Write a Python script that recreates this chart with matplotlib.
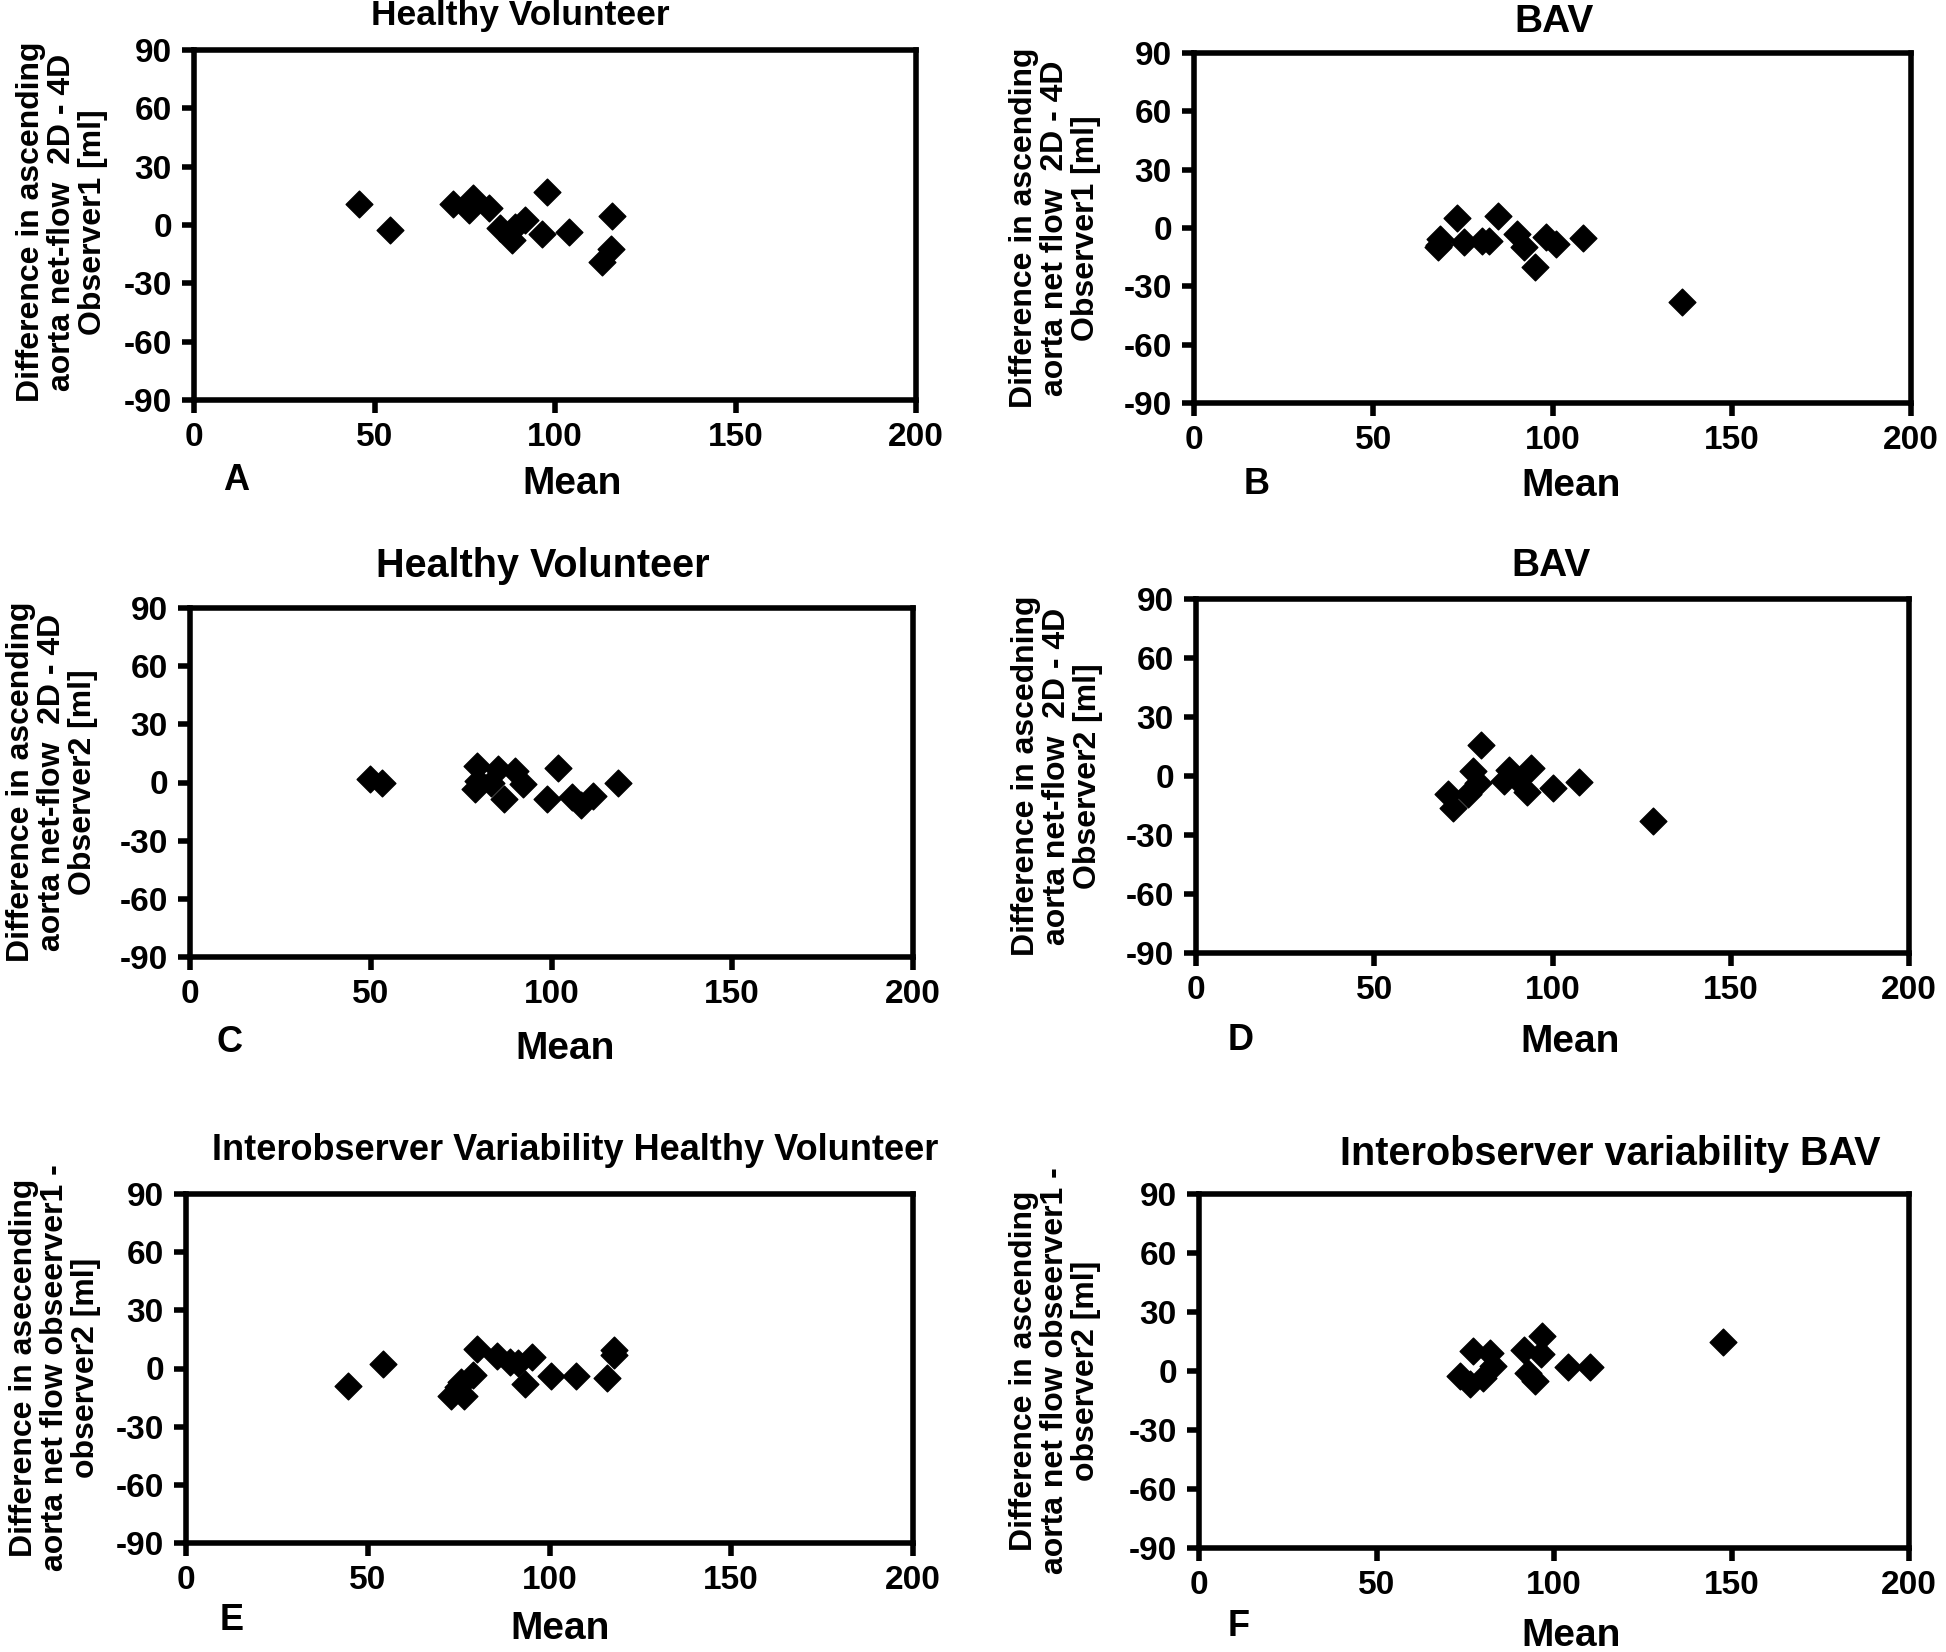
import matplotlib

matplotlib.use("Agg")
import matplotlib.pyplot as plt

plt.rcParams["font.family"] = ["Liberation Sans", "DejaVu Sans"]
plt.rcParams["font.weight"] = "bold"
plt.rcParams["axes.unicode_minus"] = False

W, H = 1946, 1652

# --- data (Bland-Altman style: mean vs difference) ---
a_mean = [45.6, 54.2, 71.8, 77.3, 76.2, 81.8, 84.9, 88.2, 91.7, 88.9, 97.7, 96.3, 104.0, 115.9, 115.6, 113.0]
a_diff = [10.6, -2.6, 10.6, 13.7, 7.7, 8.6, -1.4, -7.7, 2.6, -0.9, 16.8, -4.8, -3.4, 4.8, -12.3, -19.2]

b_mean = [68.3, 68.7, 68.0, 73.4, 75.2, 80.2, 82.3, 84.9, 90.2, 92.0, 95.0, 98.3, 101.0, 108.4, 136.0]
b_diff = [-8.9, -5.8, -9.8, 5.1, -7.2, -6.9, -6.9, 6.2, -2.9, -9.8, -20.1, -4.6, -8.1, -5.1, -38.1]

c_mean = [49.8, 53.1, 79.4, 78.7, 79.6, 85.2, 83.3, 89.8, 92.1, 86.9, 101.7, 98.8, 105.6, 108.1, 111.6, 118.3]
c_diff = [1.7, -0.5, 8.6, -3.4, 0.9, 6.9, 0.0, 6.0, -0.9, -8.6, 7.4, -8.6, -7.7, -11.7, -6.9, -0.5]

d_mean = [80.0, 77.7, 79.1, 76.3, 70.6, 72.2, 87.9, 86.5, 93.9, 90.2, 92.9, 100.0, 107.4, 128.3]
d_diff = [16.0, 2.4, -3.5, -9.4, -8.9, -16.2, 3.3, -2.6, 4.1, -1.8, -8.2, -6.0, -3.2, -23.0]

e_mean = [44.6, 54.1, 80.1, 85.6, 89.1, 91.4, 95.2, 93.2, 78.9, 75.7, 73.0, 76.6, 74.8, 100.3, 107.3, 115.7, 117.8, 117.8]
e_diff = [-9.1, 2.2, 9.9, 6.5, 3.4, 2.6, 6.0, -8.2, -3.4, -6.9, -14.2, -14.2, -9.4, -3.9, -3.9, -4.8, 9.4, 6.9]

f_mean = [147.6, 77.2, 81.9, 73.5, 76.3, 80.0, 82.8, 96.6, 91.6, 96.3, 92.6, 94.6, 104.0, 110.2]
f_diff = [14.8, 10.1, 9.3, -2.6, -6.8, -3.5, 2.4, 17.7, 10.9, 8.4, -0.9, -5.2, 1.9, 1.9]

x_ticks = [0, 50, 100, 150, 200]
y_ticks = [-90, -60, -30, 0, 30, 60, 90]

titles = ["Healthy Volunteer", "BAV", "Healthy Volunteer", "BAV",
          "Interobserver Variability Healthy Volunteer", "Interobserver variability BAV"]
ylabels = [
    "Difference in ascending\naorta net-flow  2D - 4D\nObserver1 [ml]",
    "Difference in ascending\naorta net flow  2D - 4D\nObserver1 [ml]",
    "Difference in ascending\naorta net-flow  2D - 4D\nObserver2 [ml]",
    "Difference in ascedning\naorta net-flow  2D - 4D\nObserver2 [ml]",
    "Difference in asecending\naorta net flow obseerver1 -\nobserver2 [ml]",
    "Difference in ascending\naorta net flow obseerver1 -\nobserver2 [ml]",
]
letters = ["A", "B", "C", "D", "E", "F"]
series = [(a_mean, a_diff), (b_mean, b_diff), (c_mean, c_diff),
          (d_mean, d_diff), (e_mean, e_diff), (f_mean, f_diff)]

# pixel layout: axes box (left, right, top, bottom), ylabel centre, title, "Mean", letter
boxes = [(194, 916, 50, 400), (1194, 1911, 53, 403), (190, 913, 608, 957),
         (1196, 1909, 599, 953), (186, 913, 1194, 1543), (1199, 1909, 1194, 1548)]
ylab_pos = [(62, 222), (1055, 228), (52, 782), (1057, 776), (55, 1368), (1055, 1371)]
title_pos = [(520, 15), (1554, 22), (543, 566), (1551, 566), (575, 1150), (1610, 1154)]
title_size = [25.5, 28, 28.5, 28, 26, 28.5]
mean_pos = [(572, 484), (1571, 486), (565, 1049), (1570, 1042), (560, 1629), (1571, 1636)]
letter_pos = [(236, 481), (1257, 484), (230, 1042), (1241, 1040), (232, 1620), (1239, 1626)]


def ftext(fig, x, y, s, **kw):
    fig.text(x / W, 1 - y / H, s, ha="center", va="center", fontweight="bold", **kw)


fig = plt.figure(figsize=(W / 100, H / 100), dpi=100)

for i, (xs, ys) in enumerate(series):
    l, r, t, b = boxes[i]
    ax = fig.add_axes([l / W, 1 - b / H, (r - l) / W, (b - t) / H])
    ax.scatter(xs, ys, marker="D", s=185, color="black", zorder=3)
    ax.set_xlim(0, 200)
    ax.set_ylim(-90, 90)
    ax.set_xticks(x_ticks)
    ax.set_yticks(y_ticks)
    for sp in ax.spines.values():
        sp.set_linewidth(4)
    ax.tick_params(direction="out", length=9, width=4, labelsize=24, pad=7)
    for lab in ax.get_xticklabels() + ax.get_yticklabels():
        lab.set_fontweight("bold")

    ftext(fig, *ylab_pos[i], ylabels[i], rotation=90, fontsize=23, linespacing=1.05)
    ftext(fig, *title_pos[i], titles[i], fontsize=title_size[i])
    ftext(fig, *mean_pos[i], "Mean", fontsize=28)
    ftext(fig, *letter_pos[i], letters[i], fontsize=26)

fig.savefig("out.png", dpi=100)
plt.close(fig)
